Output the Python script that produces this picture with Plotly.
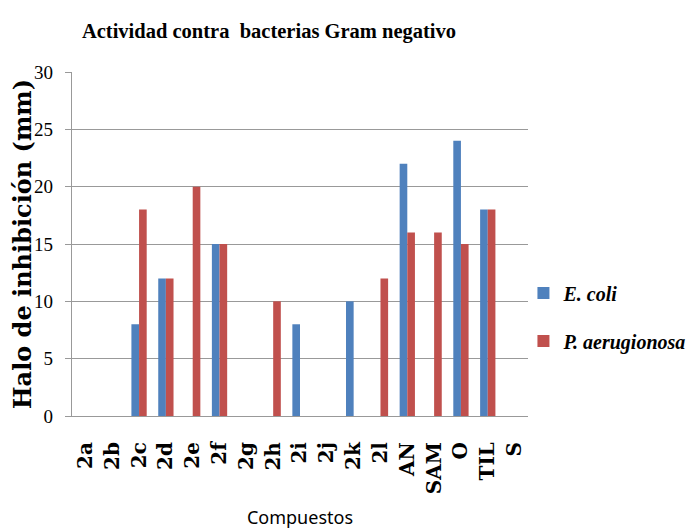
import plotly.graph_objects as go

categories = ["2a", "2b", "2c", "2d", "2e", "2f", "2g", "2h", "2i", "2j", "2k", "2l",
              "AN", "SAM", "O", "TIL", "S"]
e_coli = [0, 0, 8, 12, 0, 15, 0, 0, 8, 0, 10, 0, 22, 0, 24, 18, 0]
p_aeruginosa = [0, 0, 18, 12, 20, 15, 0, 10, 0, 0, 0, 12, 16, 16, 15, 18, 0]
y_ticks = [0, 5, 10, 15, 20, 25, 30]

fig = go.Figure()
fig.add_trace(go.Bar(x=categories, y=e_coli, name="<b><i>E. coli</i></b>",
                     marker=dict(color="#4F81BD", line=dict(width=0)),
                     legendgroup="a"))
fig.add_trace(go.Bar(x=categories, y=p_aeruginosa, name="<b><i>P. aerugionosa</i></b>",
                     marker=dict(color="#C0504D", line=dict(width=0)),
                     legendgroup="b"))

fig.update_layout(
    width=697, height=531,
    margin=dict(l=64, r=177, t=64, b=123, autoexpand=False),
    paper_bgcolor="white", plot_bgcolor="white",
    barmode="group", bargap=0.43, bargroupgap=0,
    title=dict(text="<b>Actividad contra  bacterias Gram negativo</b>",
               font=dict(family="Liberation Serif", size=20.5, color="black"),
               x=0.432, xref="paper", xanchor="center",
               y=1 - 23 / 531, yref="container", yanchor="middle"),
    legend=dict(x=0.99, xanchor="left", y=0.288, yanchor="middle",
                font=dict(family="Liberation Serif", size=20, color="black"),
                traceorder="grouped", tracegroupgap=19,
                bgcolor="rgba(0,0,0,0)"),
    showlegend=True,
)

fig.update_yaxes(
    range=[0, 30], tickvals=y_ticks, ticktext=[str(v) for v in y_ticks],
    showgrid=True, gridcolor="#999999", gridwidth=1.2,
    showline=True, linecolor="#999999", linewidth=1.2,
    ticks="outside", ticklen=6, tickcolor="#999999",
    ticklabelstandoff=8,
    tickfont=dict(family="Liberation Serif", size=19, color="black"),
    zeroline=False, automargin=False,
    title=dict(text="<b>Halo de inhibición (mm)</b>",
               font=dict(family="DejaVu Serif", size=24, color="black"),
               standoff=4),
)

fig.update_xaxes(
    showline=True, linecolor="#999999", linewidth=1.2,
    ticks="", tickangle=-90, ticklabelstandoff=17,
    tickfont=dict(family="DejaVu Serif", size=20, color="black"),
    tickvals=categories, ticktext=["<b>%s</b>" % c for c in categories],
    automargin=False,
    title=dict(text="Compuestos",
               font=dict(family="Noto Sans", size=18, color="black"),
               standoff=18),
)

fig.write_html("out.html")
